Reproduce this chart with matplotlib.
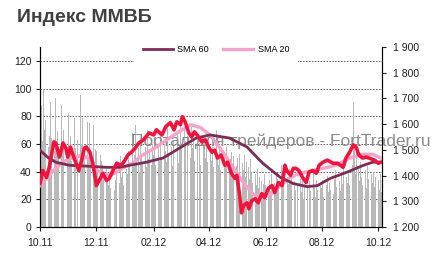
import numpy as np
import pandas as pd
import matplotlib
matplotlib.use("Agg")
import matplotlib.pyplot as plt
import matplotlib.dates as mdates
from matplotlib.ticker import FuncFormatter

plt.rcParams['font.family'] = ['Liberation Sans', 'DejaVu Sans']

# trading volume (left axis), one value per trading day from 03.10.2011
vol_start = "2011-10-03"
volume = [
    88, 62, 99, 70, 77, 58, 66, 90, 64, 72, 55, 93, 60, 69, 57, 88, 61, 70, 52, 76, 58,      # oct 11
    82, 54, 66, 48, 79, 57, 59, 46, 63, 95, 60, 79, 52, 58, 76, 49, 62, 75, 50, 74, 47, 56,  # nov
    55, 44, 52, 40, 48, 45, 38, 42, 35, 30, 36, 28, 33, 38, 27, 34, 45, 32, 51, 36, 40, 30,  # dec
    35, 42, 38, 55, 47, 68, 44, 52, 74, 48, 57, 40, 62, 50, 46, 58, 43, 70, 49, 55, 45, 60,  # jan 12
    52, 64, 45, 58, 48, 66, 50, 42, 60, 55, 47, 72, 51, 58, 44, 63, 49, 56, 68, 46, 60,      # feb
    78, 58, 71, 62, 80, 55, 66, 50, 72, 57, 63, 48, 59, 68, 52, 61, 45, 56, 64, 50, 58, 47,  # mar
    55, 62, 48, 58, 43, 70, 50, 45, 56, 41, 60, 47, 52, 44, 58, 40, 49, 54, 42, 51, 46,      # apr
    44, 50, 38, 53, 46, 41, 52, 36, 47, 43, 35, 49, 40, 32, 38, 30, 42, 28, 36, 33, 25, 31, 38,  # may
    30, 22, 34, 26, 38, 24, 32, 28, 40, 35, 30, 45, 33, 38, 29, 48, 36, 31, 42, 34, 39,      # jun
    33, 27, 38, 22, 30, 35, 25, 36, 20, 31, 28, 37, 24, 33, 26, 39, 29, 22, 34, 27, 31, 36,  # jul
    28, 34, 22, 30, 37, 25, 32, 27, 38, 24, 35, 41, 29, 33, 26, 40, 31, 43, 28, 36, 32, 39, 30,  # aug
    45, 90, 59, 38, 55, 42, 33, 47, 36, 30, 41, 28, 44, 35, 27, 38, 32, 40, 29, 36,          # sep
    34, 27, 38, 25, 30,                                                                      # oct 12
]

# index and moving averages (right axis), days counted from 01.10.2011
t0 = "2011-10-01"
index_day = [0, 3, 7, 10, 15, 17, 21, 25, 28, 30, 33, 35, 39, 42, 45, 48, 50, 54, 57, 59,
             61, 64, 68, 72, 75, 79, 83, 88, 92, 95, 99, 103, 107, 112, 118, 123, 126, 132, 136, 141,
             145, 148, 152, 154, 157, 161, 164, 167, 170, 175, 179, 183, 186, 189, 192, 196, 200, 203, 207, 211,
             213, 216, 218, 220, 224, 226, 229, 233, 236, 240, 243, 247, 251, 254, 258, 262, 265, 267, 271, 274,
             277, 280, 284, 288, 291, 295, 299, 302, 306, 311, 317, 322, 328, 331, 335, 339, 342, 345, 349, 353,
             356, 362, 366, 369]
index_val = [1369, 1420, 1393, 1432, 1531, 1527, 1472, 1527, 1507, 1472, 1511, 1487, 1448, 1420, 1460, 1507, 1511, 1491, 1448, 1409,
             1361, 1381, 1409, 1381, 1389, 1420, 1448, 1440, 1460, 1480, 1491, 1507, 1527, 1539, 1566, 1558, 1578, 1558, 1590, 1606,
             1578, 1609, 1598, 1629, 1609, 1566, 1550, 1570, 1558, 1531, 1539, 1507, 1491, 1499, 1468, 1480, 1440, 1452, 1409, 1389,
             1401, 1322, 1255, 1283, 1294, 1271, 1302, 1310, 1294, 1330, 1314, 1350, 1361, 1334, 1373, 1361, 1440, 1420, 1401, 1428,
             1428, 1420, 1393, 1373, 1413, 1420, 1409, 1440, 1452, 1460, 1448, 1448, 1432, 1468, 1491, 1519, 1511, 1480, 1468, 1472,
             1468, 1460, 1448, 1452]

sma60_day = [0, 8, 17, 32, 54, 72, 86, 97, 115, 133, 151, 169, 184, 205, 224, 241, 260, 274, 289, 300, 314, 332, 350, 360, 369]
sma60_val = [1499, 1472, 1452, 1440, 1436, 1432, 1432, 1440, 1452, 1468, 1507, 1546, 1558, 1546, 1511, 1448, 1393, 1369, 1357, 1361,
             1389, 1413, 1440, 1452, 1452]

sma20_day = [0, 5, 13, 24, 35, 46, 55, 62, 72, 81, 89, 100, 111, 126, 140, 152, 163, 174, 185, 198,
             209, 220, 230, 238, 249, 260, 271, 281, 292, 306, 320, 335, 349, 360, 369]
sma20_val = [1361, 1381, 1413, 1452, 1468, 1480, 1460, 1420, 1401, 1409, 1428, 1448, 1480, 1511, 1546, 1574, 1598, 1586, 1554, 1491,
             1432, 1373, 1330, 1310, 1326, 1361, 1393, 1409, 1417, 1428, 1440, 1468, 1483, 1483, 1468]

title = "Индекс ММВБ"
watermark = "Портал для трейдеров - FortTrader.ru"

base = pd.Timestamp(t0)
vol_dates = pd.bdate_range(vol_start, periods=len(volume))
idx_dates = [base + pd.Timedelta(days=d) for d in index_day]
s60_dates = [base + pd.Timedelta(days=d) for d in sma60_day]
s20_dates = [base + pd.Timedelta(days=d) for d in sma20_day]

fig = plt.figure(figsize=(4.41, 2.60), dpi=100)
ax = fig.add_axes([40 / 441, 1 - 227 / 260, 342 / 441, 180 / 260])

ax.bar(vol_dates, volume, width=0.95, color='#b9b9b9', linewidth=0, zorder=2)
ax.set_ylim(0, 130)
ax.set_yticks(range(0, 121, 20))
ax.set_axisbelow(True)
ax.yaxis.grid(True, linestyle=(0, (2, 1.5)), color='#555555', linewidth=0.6)
ax.set_xlim(base, base + pd.Timedelta(days=370))
ax.xaxis.set_major_locator(mdates.MonthLocator(bymonth=[2, 4, 6, 8, 10, 12]))
ax.xaxis.set_major_formatter(mdates.DateFormatter('%m.%y'))

ax2 = ax.twinx()
ax2.plot(s20_dates, sma20_val, color='#f5a3c8', linewidth=2.4, label='SMA 20', zorder=3)
ax2.plot(s60_dates, sma60_val, color='#7b2d56', linewidth=2.0, label='SMA 60', zorder=4)
ax2.plot(idx_dates, index_val, color='#f0143c', linewidth=2.6, zorder=5)
ax2.set_ylim(1200, 1900)
ax2.set_yticks(range(1200, 1901, 100))
ax2.yaxis.set_major_formatter(FuncFormatter(lambda v, p: "{:,}".format(int(v)).replace(",", " ")))

for a in (ax, ax2):
    a.spines['top'].set_visible(False)
    for s in a.spines.values():
        s.set_linewidth(0.8)
ax.tick_params(axis='both', labelsize=7.5, length=3, width=0.8, colors='#222222', pad=3)
ax.tick_params(axis='x', pad=5)
ax2.tick_params(axis='y', labelsize=7.5, length=3, width=0.8, colors='#222222', pad=5)

h, l = ax2.get_legend_handles_labels()
leg = ax2.legend(h[::-1], l[::-1], loc='center', bbox_to_anchor=(216 / 441, 1 - 50 / 260),
                 bbox_transform=fig.transFigure, ncol=2, frameon=True, fontsize=6.5,
                 handlelength=3.3, handletextpad=0.5, columnspacing=1.6, borderpad=1.0)
leg.get_frame().set_facecolor('white')
leg.get_frame().set_edgecolor('none')
leg.get_frame().set_alpha(1)

ax2.text(281 / 441, 1 - 141 / 260, watermark, transform=fig.transFigure, ha='center', va='center',
         fontsize=12.5, color='#8c8c8c', zorder=2, clip_on=False)

fig.text(17 / 441, 1 - 17 / 260, title, fontsize=14, fontweight='bold', color='#404040',
         ha='left', va='center')

fig.savefig('out.png', dpi=100)
